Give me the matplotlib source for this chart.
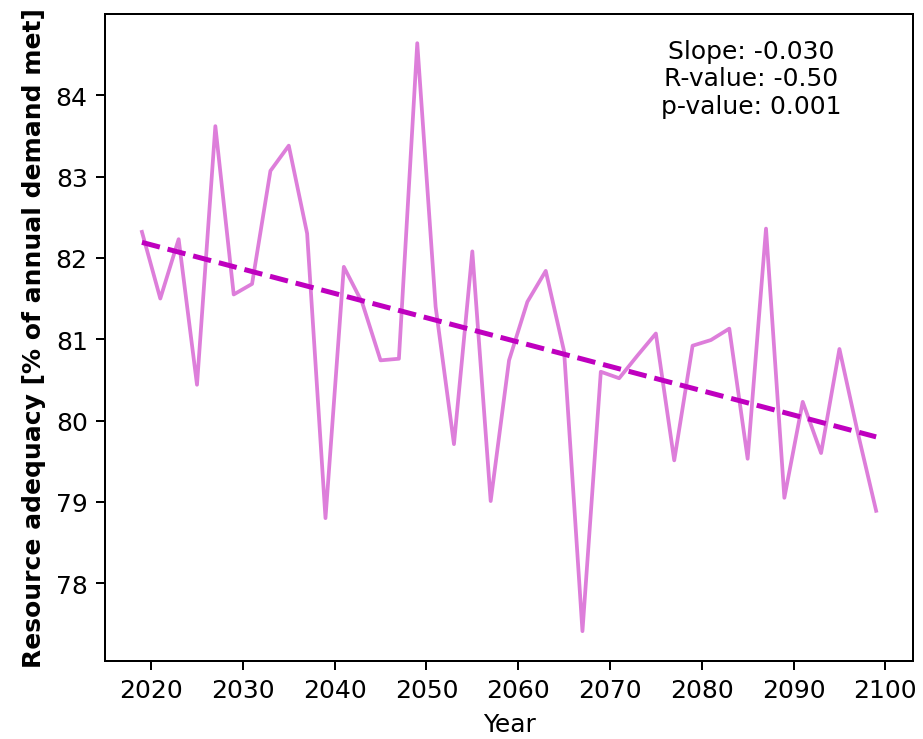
import numpy as np
import matplotlib
matplotlib.use("Agg")
import matplotlib.pyplot as plt

years = list(range(2019, 2100, 2))
adequacy = [82.32, 81.50, 82.23, 80.44, 83.62, 81.55, 81.68, 83.07, 83.38, 82.30,
            78.80, 81.89, 81.45, 80.74, 80.76, 84.64, 81.40, 79.71, 82.08, 79.01,
            80.74, 81.46, 81.84, 80.85, 77.41, 80.60, 80.52, 80.80, 81.07, 79.51,
            80.92, 80.99, 81.13, 79.53, 82.36, 79.05, 80.23, 79.60, 80.88, 79.85,
            78.89]
stats_text = "Slope: -0.030\nR-value: -0.50\np-value: 0.001"

x = np.array(years, dtype=float)
y = np.array(adequacy)
slope, intercept = np.polyfit(x, y, 1)

fig = plt.figure(figsize=(923/180, 740/180), dpi=180)
ax = fig.add_axes([0.114, 0.106, 0.875, 0.874])
ax.plot(x, y, color="orchid", lw=1.5, alpha=0.9)
ax.plot(x, slope * x + intercept, color="m", lw=2, ls="--")
ax.text(0.8, 0.9, stats_text, transform=ax.transAxes, ha="center", va="center",
        multialignment="center", fontsize=10)
ax.set_xlabel("Year")
ax.set_ylabel("Resource adequacy [% of annual demand met]", fontweight="bold")
ax.set_xticks([2020, 2030, 2040, 2050, 2060, 2070, 2080, 2090, 2100])
ax.set_yticks([78, 79, 80, 81, 82, 83, 84])
fig.savefig("out.png", dpi=180)
